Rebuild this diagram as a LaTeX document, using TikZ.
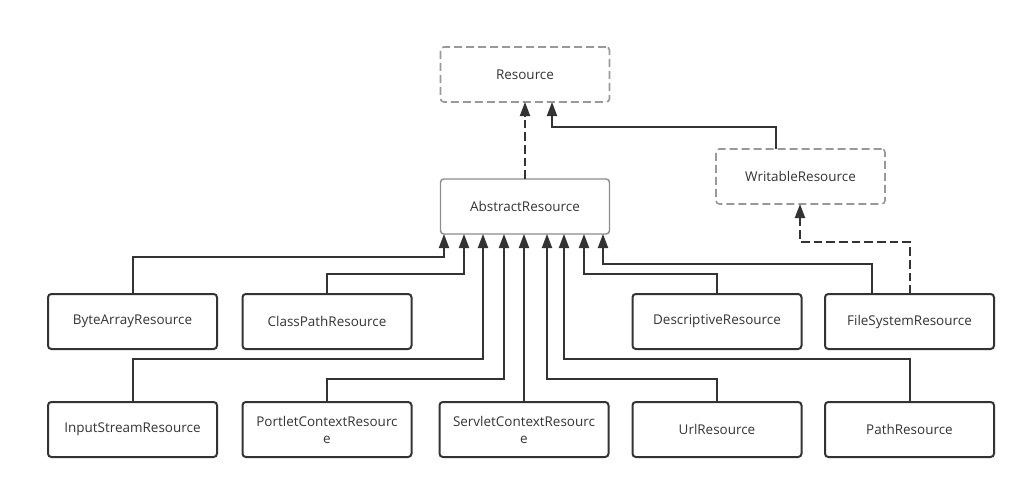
\documentclass[tikz,border=0pt]{standalone}
\usepackage{fontspec}
\setmainfont{Open Sans}
\usetikzlibrary{arrows.meta,calc}
\definecolor{ink}{HTML}{333333}
\definecolor{soft}{HTML}{8C8C8C}
\definecolor{dashgray}{HTML}{999999}
\begin{document}
\begin{tikzpicture}[x=0.75pt,y=-0.75pt,
  box/.style={draw=ink,line width=1.5pt,rounded corners=2.5pt,minimum width=126.75pt,
    minimum height=41.25pt,inner sep=0pt,outer sep=0pt,align=center,text=ink,
    font=\fontsize{10.1}{12.8}\selectfont},
  iface/.style={box,draw=dashgray,line width=1.2pt,dash pattern=on 6pt off 3pt},
  abstr/.style={box,draw=soft,line width=1.1pt},
  conn/.style={draw=ink,line width=1.5pt,-{Triangle[length=10.5pt,width=7.5pt]}},
  dconn/.style={conn,dash pattern=on 6.5pt off 3pt}]
\useasboundingbox (0,0) rectangle (1026,489);

% interfaces and abstract base
\node[iface] (res) at (525,74.5) {Resource};
\node[iface] (wr)  at (800.5,176.5) {WritableResource};
\node[abstr] (abs) at (525,206.5) {AbstractResource};

% first row of implementations
\node[box] (bar)  at (132.5,321.5) {ByteArrayResource};
\node[box] (cpr)  at (327,321.5) {ClassPathResource};
\node[box] (desc) at (717,321.5) {DescriptiveResource};
\node[box] (fsr)  at (909.5,321.5) {FileSystemResource};

% second row of implementations
\node[box] (isr)  at (132.5,429.5) {InputStreamResource};
\node[box] (pcr)  at (327,429.5) {PortletContextResourc\\e};
\node[box] (scr)  at (524,429.5) {ServletContextResourc\\e};
\node[box] (url)  at (717,429.5) {UrlResource};
\node[box] (path) at (909.5,429.5) {PathResource};

% realisation of the interfaces
\draw[dconn] (abs.north) -- (res.south);
\draw[conn] ($(wr.north)+(-24.5,0)$) |- ($(res.south)+(27,25)$) -- ($(res.south)+(27,0)$);
\draw[dconn] (fsr.north) |- ($(wr.south)+(-0.5,38)$) -- ($(wr.south)+(-0.5,0)$);

% subclasses of AbstractResource
\draw[conn] (bar.north)  |- ($(abs.south)+(-81,23)$)  -- ($(abs.south)+(-81,0)$);
\draw[conn] (cpr.north)  |- ($(abs.south)+(-61,40)$)  -- ($(abs.south)+(-61,0)$);
\draw[conn] (isr.north)  |- ($(abs.south)+(-42,125)$) -- ($(abs.south)+(-42,0)$);
\draw[conn] (pcr.north)  |- ($(abs.south)+(-21,145)$) -- ($(abs.south)+(-21,0)$);
\draw[conn] (scr.north)  -- (scr.north |- abs.south);
\draw[conn] (url.north)  |- ($(abs.south)+(22,145)$)  -- ($(abs.south)+(22,0)$);
\draw[conn] (path.north) |- ($(abs.south)+(39,125)$)  -- ($(abs.south)+(39,0)$);
\draw[conn] (desc.north) |- ($(abs.south)+(59,40)$)   -- ($(abs.south)+(59,0)$);
\draw[conn] ($(fsr.north)+(-37.5,0)$) |- ($(abs.south)+(78,30)$) -- ($(abs.south)+(78,0)$);
\end{tikzpicture}
\end{document}
